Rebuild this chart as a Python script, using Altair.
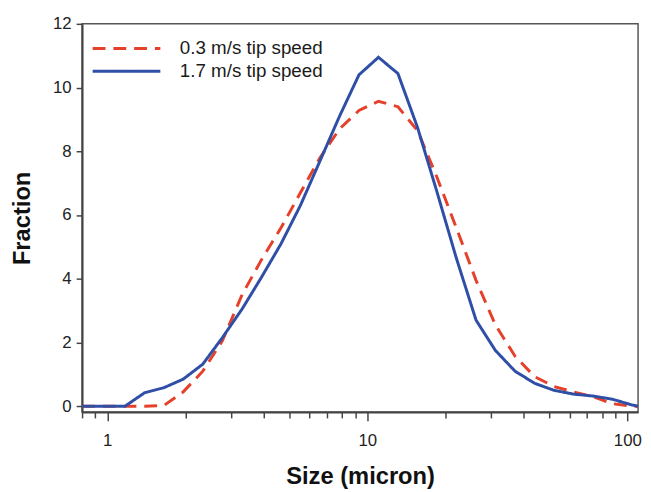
import altair as alt
import pandas as pd

# Particle size bins (micron)
sizes = [0.8, 1.17, 1.39, 1.65, 1.96, 2.33, 2.77, 3.30, 3.92, 4.66, 5.53, 6.58, 7.82,
         9.29, 11.04, 13.12, 15.6, 18.5, 22.0, 26.2, 31.1, 37.0, 44.0, 52.2, 62.1,
         73.8, 87.7, 104.2, 110.0]

slow = [0, 0, 0, 0.02, 0.45, 1.1, 2.05, 3.5, 4.6, 5.6, 6.7, 7.8, 8.7,
        9.28, 9.57, 9.4, 8.65, 7.2, 5.6, 3.95, 2.55, 1.57, 0.93, 0.62, 0.45,
        0.3, 0.08, 0.0, 0.0]

fast = [0, 0, 0.42, 0.58, 0.85, 1.32, 2.15, 3.05, 4.05, 5.1, 6.3, 7.7, 9.1,
        10.4, 10.95, 10.44, 8.75, 6.75, 4.65, 2.7, 1.75, 1.1, 0.72, 0.5, 0.38,
        0.32, 0.22, 0.04, 0.0]

series_names = ["0.3 m/s tip speed", "1.7 m/s tip speed"]
series_colors = ["#e5402a", "#2f4ea6"]
series_dash = [[13, 8], [1, 0]]

x_ticks = [0.8, 0.9, 1, 2, 3, 4, 5, 6, 7, 8, 9, 10, 20, 30, 40, 50, 60, 70, 80, 90, 100]
y_ticks = [0, 2, 4, 6, 8, 10, 12]

rows = []
for s, v in zip(sizes, slow):
    rows.append({"size": s, "fraction": v, "series": series_names[0]})
for s, v in zip(sizes, fast):
    rows.append({"size": s, "fraction": v, "series": series_names[1]})
df = pd.DataFrame(rows)

FONT = "Liberation Sans"

legend = alt.Legend(title=None, orient="none", legendX=9, legendY=14,
                    symbolType="stroke", symbolSize=4700,
                    symbolStrokeWidth=3, clipHeight=22,
                    labelFont=FONT, labelFontSize=19,
                    labelColor="#1a1a1a", labelOffset=18,
                    rowPadding=1, padding=0)

chart = alt.Chart(df).mark_line(strokeWidth=3, clip=True).encode(
    x=alt.X("size:Q",
            scale=alt.Scale(type="log", domain=[0.8, 110], nice=False, zero=False),
            axis=alt.Axis(values=x_ticks, title="Size (micron)", grid=False,
                          format="~g",
                          labelExpr="(datum.value == 1 || datum.value == 10 || datum.value == 100) ? datum.label : ''",
                          tickSize={"condition": {"test": "datum.value == 1 || datum.value == 10 || datum.value == 100", "value": 9}, "value": 6},
                          labelPadding=12, labelFlush=False, labelOverlap=False, labelBound=False,
                          titlePadding=16)),
    y=alt.Y("fraction:Q",
            scale=alt.Scale(domain=[-0.18, 12], nice=False, zero=False),
            axis=alt.Axis(values=y_ticks, title="Fraction", grid=False, tickSize=6,
                          labelPadding=5, titlePadding=18)),
    color=alt.Color("series:N",
                    scale=alt.Scale(domain=series_names, range=series_colors),
                    legend=legend),
    strokeDash=alt.StrokeDash("series:N",
                              scale=alt.Scale(domain=series_names, range=series_dash),
                              legend=legend),
).properties(
    width=563, height=393,
    autosize=alt.AutoSizeParams(type="none"),
    padding={"left": 75, "top": 13, "right": 5, "bottom": 78},
).configure(
    background="white"
).configure_view(
    stroke="#555555", strokeWidth=1.5
).configure_axis(
    labelFont=FONT, labelFontSize=17, labelColor="#222222",
    titleFont=FONT, titleFontSize=24, titleFontWeight="bold", titleColor="#111111",
    domainColor="#444444", domainWidth=2, tickColor="#444444", tickWidth=1.5
)

chart.save("out.html", embed_options={"renderer": "svg", "actions": False})
